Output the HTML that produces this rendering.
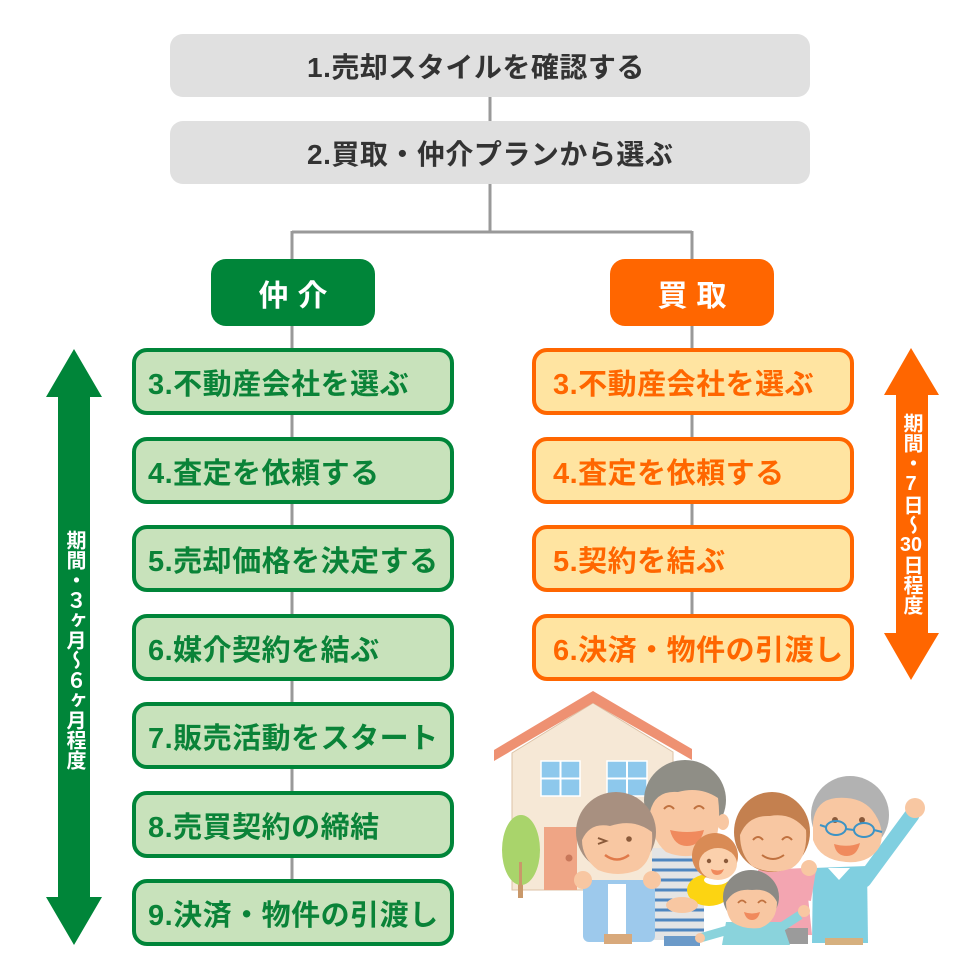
<!DOCTYPE html>
<html><head><meta charset="utf-8">
<style>
html,body{margin:0;padding:0;background:#fff;}
body{width:980px;height:980px;position:relative;overflow:hidden;font-family:"Liberation Sans","Noto Sans CJK JP",sans-serif;font-weight:bold;}
.abs{position:absolute;box-sizing:border-box;display:flex;align-items:center;}
.gray{left:170px;width:640px;height:63px;background:#e0e0e0;border-radius:13px;justify-content:flex-start;padding-left:137px;color:#333;font-size:28px;letter-spacing:0.5px;}
.hdr{top:259px;width:164px;height:67px;border-radius:15px;justify-content:center;color:#fff;font-size:30px;letter-spacing:9px;padding-left:9px;}
.g{left:132px;width:322px;height:67px;background:#c8e2bb;border:4px solid #008539;border-radius:15px;color:#0a8338;font-size:29px;padding-left:12px;letter-spacing:0.5px;}
.o{left:532px;width:322px;height:67px;background:#ffe4a1;border:4px solid #ff6600;border-radius:15px;color:#ff6600;font-size:29px;padding-left:17px;letter-spacing:0.5px;}
.vt{position:absolute;writing-mode:vertical-rl;color:#fff;font-size:20px;line-height:1;}
.up{text-orientation:upright;}
.tcy{text-combine-upright:all;}
svg{position:absolute;left:0;top:0;}
</style></head><body>
<svg width="980" height="980" viewBox="0 0 980 980">
  <g stroke="#999" stroke-width="3" fill="none">
    <line x1="490" y1="97" x2="490" y2="232"/>
    <line x1="292" y1="232" x2="692" y2="232"/>
    <line x1="292" y1="231" x2="292" y2="900"/>
    <line x1="692" y1="231" x2="692" y2="640"/>
  </g>
  <polygon fill="#008539" points="74,349 102,397 90,397 90,897 102,897 74,945 46,897 58,897 58,397 46,397"/>
  <polygon fill="#ff6600" points="911,348 939,395 928,395 928,633 939,633 911,680 884,633 896,633 896,395 884,395"/>

  <!-- House -->
  <polygon fill="#f6e8d6" stroke="#dcc2a6" stroke-width="1" points="512,753 593,703 673,752 673,890 512,890"/>
  <polygon fill="#ee9172" points="494,750 593,691 692,749 692,760 593,703 494,761"/>
  <rect x="541" y="761" width="39" height="35" fill="#8dc8ec" stroke="#fff" stroke-width="1.5"/>
  <line x1="560.5" y1="761" x2="560.5" y2="796" stroke="#fff" stroke-width="2"/>
  <line x1="541" y1="778.5" x2="580" y2="778.5" stroke="#fff" stroke-width="2"/>
  <rect x="607" y="761" width="40" height="35" fill="#8dc8ec" stroke="#fff" stroke-width="1.5"/>
  <line x1="627" y1="761" x2="627" y2="796" stroke="#fff" stroke-width="2"/>
  <line x1="607" y1="778.5" x2="647" y2="778.5" stroke="#fff" stroke-width="2"/>
  <rect x="544" y="827" width="33" height="63" fill="#efa585"/>
  <circle cx="569" cy="858" r="3.5" fill="#c8775a"/>
  <!-- Tree -->
  <rect x="518" y="860" width="5" height="38" fill="#c9986a"/>
  <ellipse cx="521" cy="850" rx="19" ry="35" fill="#a9d46b"/>
  <rect x="519" y="862" width="3" height="36" fill="#c9986a"/>

  <!-- Dad -->
  <rect x="652" y="848" width="52" height="92" fill="#e4e4e4"/>
  <g stroke="#4f86bf" stroke-width="3">
    <line x1="652" y1="860" x2="704" y2="860"/><line x1="652" y1="870" x2="704" y2="870"/>
    <line x1="652" y1="880" x2="704" y2="880"/><line x1="652" y1="890" x2="704" y2="890"/>
    <line x1="652" y1="900" x2="704" y2="900"/><line x1="652" y1="910" x2="704" y2="910"/>
    <line x1="652" y1="920" x2="704" y2="920"/><line x1="652" y1="930" x2="704" y2="930"/>
  </g>
  <rect x="664" y="936" width="36" height="10" fill="#6b9ac9"/>
  <ellipse cx="685" cy="800" rx="41" ry="40" fill="#8f8e86"/>
  <ellipse cx="723" cy="822" rx="6" ry="8" fill="#f8c7a2"/>
  <path d="M650,812 Q655,790 678,792 Q700,786 718,798 Q722,830 712,848 Q690,862 666,852 Q650,838 650,812Z" fill="#f8c7a2"/>
  <g stroke="#c0713f" stroke-width="2" fill="none"><path d="M664,809 q5,-6 10,0"/><path d="M694,809 q5,-6 10,0"/></g>
  <path d="M670,830 q17,4 34,0 q-4,16 -17,16 q-13,0 -17,-16z" fill="#f08a5d"/>

  <!-- Grandma -->
  <rect x="583" y="880" width="72" height="62" rx="6" fill="#9dc9ec"/>
  <rect x="608" y="884" width="18" height="50" fill="#fff"/>
  <rect x="604" y="934" width="28" height="10" fill="#d8a97b"/>
  <ellipse cx="616" cy="832" rx="40" ry="40" fill="#a89080"/>
  <path d="M582,840 Q590,822 610,826 Q634,818 652,832 Q654,860 638,870 Q618,878 598,870 Q582,858 582,840Z" fill="#f8c7a2"/>
  <g stroke="#8a5a3a" stroke-width="2" fill="none"><path d="M598,838 l8,3 l-8,3"/></g>
  <circle cx="629" cy="839" r="2.8" fill="#8a5a3a"/>
  <path d="M605,855 q12,9 24,0" stroke="#e07a4a" stroke-width="2.5" fill="none"/>
  <circle cx="583" cy="880" r="9" fill="#f8c7a2"/>
  <circle cx="652" cy="880" r="9" fill="#f8c7a2"/>

  <!-- Grandpa -->
  <polygon fill="#80cfe0" points="813,868 867,866 868,943 812,943"/>
  <polygon fill="#fff" points="828,868 850,868 839,880"/>
  <line x1="864" y1="880" x2="912" y2="815" stroke="#80cfe0" stroke-width="15" stroke-linecap="round"/>
  <circle cx="915" cy="808" r="10" fill="#f8c7a2"/>
  <rect x="825" y="938" width="38" height="7" fill="#d6b07f"/>
  <ellipse cx="850" cy="815" rx="39" ry="39" fill="#b2b2b2"/>
  <path d="M813,822 Q816,800 836,798 Q860,796 872,810 Q886,828 880,846 Q870,864 846,862 Q820,860 813,840Z" fill="#f8c7a2"/>
  <circle cx="835" cy="820" r="3" fill="#8a5a3a"/>
  <circle cx="862" cy="820" r="3" fill="#8a5a3a"/>
  <g stroke="#3d93c4" stroke-width="2" fill="none">
    <ellipse cx="836" cy="828" rx="10" ry="7"/><ellipse cx="864" cy="830" rx="10" ry="7"/>
    <line x1="846" y1="829" x2="854" y2="830"/><line x1="820" y1="825" x2="826" y2="827"/><line x1="874" y1="830" x2="882" y2="832"/>
  </g>
  <path d="M834,844 q14,4 26,-1 q-3,13 -13,13 q-11,0 -13,-12z" fill="#f08a5d"/>

  <!-- Mom -->
  <path d="M758,870 L805,868 L812,935 L760,935Z" fill="#f3a5b1"/>
  <line x1="805" y1="900" x2="810" y2="870" stroke="#f3a5b1" stroke-width="12"/>
  <circle cx="809" cy="868" r="8" fill="#f8c7a2"/>
  <rect x="768" y="928" width="40" height="16" fill="#9b9b9b"/>
  <ellipse cx="772" cy="832" rx="38" ry="40" fill="#c4804f"/>
  <path d="M740,835 Q748,815 770,816 Q792,812 806,830 Q808,858 792,868 Q772,876 752,866 Q740,854 740,835Z" fill="#f8c7a2"/>
  <g stroke="#c0713f" stroke-width="2" fill="none"><path d="M753,840 q5,-6 10,0"/><path d="M782,840 q5,-6 10,0"/><path d="M762,855 q11,8 22,0"/></g>

  <!-- Baby -->
  <ellipse cx="709" cy="890" rx="22" ry="16" fill="#fcd412"/>
  <ellipse cx="716" cy="880" rx="12" ry="5" fill="#fff"/>
  <circle cx="715" cy="856" r="23" fill="#d98b55"/>
  <ellipse cx="718" cy="864" rx="19" ry="16" fill="#fbd0ac"/>
  <circle cx="709" cy="861" r="2.2" fill="#8a5a3a"/><circle cx="726" cy="861" r="2.2" fill="#8a5a3a"/>
  <path d="M711,869 q7,3 13,0 q-2,6 -7,6 q-5,0 -6,-6z" fill="#f08a5d"/>
  <ellipse cx="682" cy="905" rx="16" ry="8" fill="#f8c7a2"/>

  <!-- Boy -->
  <path d="M726,922 L782,922 L790,945 L722,945Z" fill="#8ad3dc"/>
  <line x1="700" y1="938" x2="728" y2="930" stroke="#8ad3dc" stroke-width="9"/>
  <line x1="780" y1="928" x2="800" y2="915" stroke="#8ad3dc" stroke-width="9"/>
  <circle cx="804" cy="911" r="6" fill="#f8c7a2"/>
  <circle cx="700" cy="938" r="5" fill="#f8c7a2"/>
  <ellipse cx="751" cy="897" rx="28" ry="27" fill="#8b8a85"/>
  <path d="M726,902 Q734,888 752,890 Q770,888 777,902 Q777,922 760,928 Q744,930 732,922 Q726,914 726,902Z" fill="#f8c7a2"/>
  <g stroke="#c0713f" stroke-width="1.8" fill="none"><path d="M738,903 q4,-5 8,0"/><path d="M758,903 q4,-5 8,0"/></g>
  <path d="M744,912 q8,3 16,0 q-2,8 -8,8 q-6,0 -8,-8z" fill="#f08a5d"/>
</svg>

<div class="abs gray" style="top:34px;">1.売却スタイルを確認する</div>
<div class="abs gray" style="top:121px;">2.買取・仲介プランから選ぶ</div>

<div class="abs hdr" style="left:211px;background:#008539;">仲介</div>
<div class="abs hdr" style="left:610px;background:#ff6600;">買取</div>

<div class="abs g" style="top:348px;">3.不動産会社を選ぶ</div>
<div class="abs g" style="top:437px;">4.査定を依頼する</div>
<div class="abs g" style="top:525px;">5.売却価格を決定する</div>
<div class="abs g" style="top:614px;">6.媒介契約を結ぶ</div>
<div class="abs g" style="top:702px;">7.販売活動をスタート</div>
<div class="abs g" style="top:791px;">8.売買契約の締結</div>
<div class="abs g" style="top:879px;">9.決済・物件の引渡し</div>

<div class="abs o" style="top:348px;">3.不動産会社を選ぶ</div>
<div class="abs o" style="top:437px;">4.査定を依頼する</div>
<div class="abs o" style="top:525px;">5.契約を結ぶ</div>
<div class="abs o" style="top:614px;">6.決済・物件の引渡し</div>

<div class="vt" style="left:64px;top:530px;">期間・３ヶ月〜６ヶ月程度</div>
<div class="vt" style="left:901px;top:413px;">期間・<span class="up">7</span>日〜<span class="tcy">30</span>日程度</div>
</body></html>
